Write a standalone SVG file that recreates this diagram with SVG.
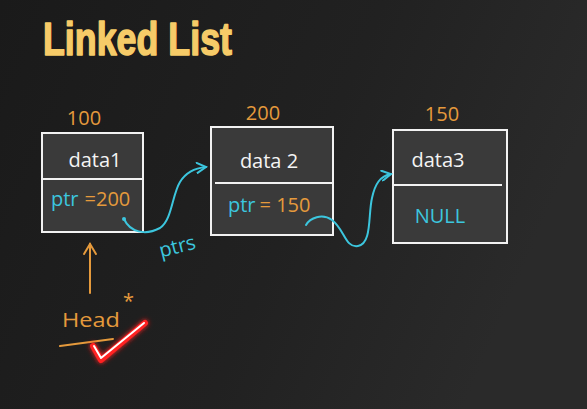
<svg xmlns="http://www.w3.org/2000/svg" width="587" height="409" viewBox="0 0 587 409">
<defs>
<linearGradient id="bg" x1="0" y1="0" x2="1" y2="0.3">
<stop offset="0" stop-color="#1a1a1a"/>
<stop offset="0.6" stop-color="#212121"/>
<stop offset="1" stop-color="#2a2a2a"/>
</linearGradient>
<filter id="glow" x="-50%" y="-50%" width="200%" height="200%">
<feGaussianBlur stdDeviation="2.5" result="b"/>
<feMerge><feMergeNode in="b"/><feMergeNode in="SourceGraphic"/></feMerge>
</filter>
<marker id="cyanHead" viewBox="0 0 12 12" refX="10" refY="6" markerWidth="12" markerHeight="12" markerUnits="userSpaceOnUse" orient="auto">
<path d="M1,1 L10,6 L1,11" fill="none" stroke="#3cc6de" stroke-width="2" stroke-linecap="round"/>
</marker>
<marker id="orangeHead" viewBox="0 0 16 16" refX="8" refY="2" markerWidth="16" markerHeight="16" markerUnits="userSpaceOnUse" orient="0">
<path d="M2,12 L8,2 L14,12" fill="none" stroke="#e59a3c" stroke-width="2" stroke-linecap="round"/>
</marker>
</defs>
<style>
.box{fill:#3a3a3a;stroke:#f2f2f2;stroke-width:2}
.div{stroke:#f2f2f2;stroke-width:2}
.hw{font-family:"Open Sans","DejaVu Sans",sans-serif;font-size:20px}
.white{fill:#f4f4f4}
.orange{fill:#e59a3c}
.cyan{fill:#3cc6de}
.cline{fill:none;stroke:#3cc6de;stroke-width:2;stroke-linecap:round}
.oline{fill:none;stroke:#e59a3c;stroke-width:2;stroke-linecap:round}
</style>
<rect width="587" height="409" fill="url(#bg)"/>
<text x="43" y="55" font-family="Liberation Sans, Arial, sans-serif" font-weight="bold" font-size="47" fill="#f6cb68" stroke="#f6cb68" stroke-width="1.6" stroke-linejoin="round" textLength="189" lengthAdjust="spacingAndGlyphs">Linked List</text>

<g id="node1">
<text x="84" y="125" class="hw orange" text-anchor="middle">100</text>
<rect x="42" y="133" width="101" height="99" class="box"/>
<line x1="42" y1="179" x2="143" y2="179" class="div"/>
<text x="95" y="167" class="hw white" text-anchor="middle">data1</text>
<text x="51" y="206" class="hw"><tspan class="cyan">ptr</tspan><tspan class="orange" dx="6">=200</tspan></text>
</g>

<g id="node2">
<text x="263" y="120" class="hw orange" text-anchor="middle">200</text>
<rect x="211" y="127" width="122" height="108" class="box"/>
<line x1="215" y1="183" x2="334" y2="183" class="div"/>
<text x="269" y="168" class="hw white" text-anchor="middle">data 2</text>
<text x="228" y="212" class="hw"><tspan class="cyan">ptr</tspan><tspan class="orange" dx="4">= 150</tspan></text>
</g>

<g id="node3">
<text x="442" y="121" class="hw orange" text-anchor="middle">150</text>
<rect x="393" y="130" width="114" height="113" class="box"/>
<line x1="393" y1="185" x2="502" y2="185" class="div"/>
<text x="438" y="167" class="hw white" text-anchor="middle">data3</text>
<text x="440" y="223" class="hw cyan" text-anchor="middle">NULL</text>
</g>

<g id="head">
<text x="62" y="327" class="hw orange" font-size="25" textLength="58" lengthAdjust="spacingAndGlyphs">Head</text>
<text x="123" y="308" class="hw orange" font-size="22">*</text>
<line x1="60" y1="346" x2="113" y2="339" class="oline"/>
<path d="M93,346 L101,360 L145,323" fill="none" stroke="#ff2020" stroke-width="6" stroke-linecap="round" stroke-linejoin="round" filter="url(#glow)"/>
<path d="M94,346 L101,358 L144,323" fill="none" stroke="#ffffff" stroke-width="2" stroke-linecap="round" stroke-linejoin="round"/>
</g>

<g id="connectors">
<circle cx="124" cy="219" r="2" fill="#3cc6de"/>
<path d="M124,219 C130,232 145,236 160,228 C172,220 172,195 180,182 C186,172 196,168 206,167" class="cline" marker-end="url(#cyanHead)"/>
<path d="M306,225 C310,218 322,213 332,220 C345,230 345,248 358,246 C372,244 368,215 372,198 C375,184 380,176 391,174" class="cline" marker-end="url(#cyanHead)"/>
<text x="159" y="254" class="hw cyan" font-size="19" transform="rotate(-14 174 248)">ptrs</text>
<line x1="90" y1="293" x2="90" y2="244" class="oline" marker-end="url(#orangeHead)"/>
</g>
</svg>
